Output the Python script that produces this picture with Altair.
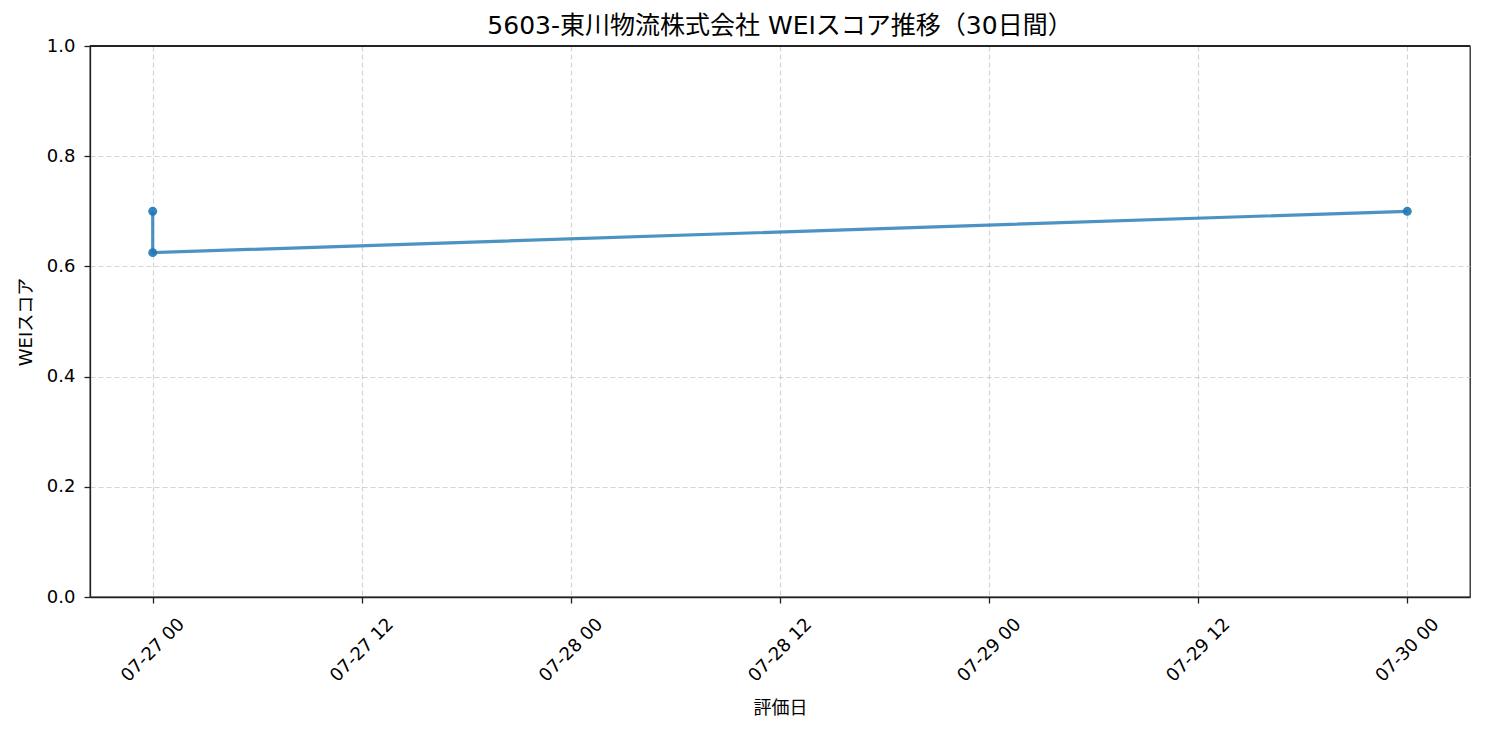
import altair as alt
import pandas as pd

timestamps = ["2025-07-27T00:00:00Z", "2025-07-27T00:00:00Z", "2025-07-30T00:00:00Z"]
scores = [0.70, 0.625, 0.70]
order = [0, 1, 2]
tick_days = [27, 27, 28, 28, 29, 29, 30]
tick_hours = [0, 12, 0, 12, 0, 12, 0]
y_max = 1.0

df = pd.DataFrame({"date": timestamps, "score": scores, "idx": order})

FONT = "DejaVu Sans, Noto Sans CJK JP"
COLOR = "#1f77b4"

tick_values = [
    alt.DateTime(year=2025, month=7, date=d, hours=h, utc=True)
    for d, h in zip(tick_days, tick_hours)
]

x_enc = alt.X(
    "date:T",
    title="評価日",
    scale=alt.Scale(
        type="utc",
        domain=[
            alt.DateTime(year=2025, month=7, date=26, hours=20, minutes=24, utc=True),
            alt.DateTime(year=2025, month=7, date=30, hours=3, minutes=36, utc=True),
        ],
        nice=False,
    ),
    axis=alt.Axis(
        format="%m-%d %H",
        values=tick_values,
        labelAngle=315,
        labelAlign="center",
        labelBaseline="middle",
        labelPadding=47,
        labelFlush=False,
        labelOverlap=False,
        titlePadding=15,
    ),
)
y_enc = alt.Y(
    "score:Q",
    title="WEIスコア",
    scale=alt.Scale(domain=[0, y_max], nice=False, zero=True),
    axis=alt.Axis(values=[0, 0.2, 0.4, 0.6, 0.8, 1.0], format=".1f", titlePadding=11,
                  labelPadding=9),
)

base = alt.Chart(df).encode(x=x_enc, y=y_enc, order=alt.Order("idx:Q"))

line = base.mark_line(color=COLOR, strokeWidth=3.2, opacity=0.8)
points = base.mark_point(color=COLOR, filled=True, size=80, opacity=0.9)
top_spine = alt.Chart(df).mark_rule(color="#222", strokeWidth=1.3).encode(
    y=alt.datum(y_max)
)

chart = (
    alt.layer(line, points, top_spine)
    .properties(
        width=1380,
        height=551,
        background="white",
        title=alt.TitleParams(
            "5603-東川物流株式会社 WEIスコア推移（30日間）",
            font=FONT,
            fontSize=25,
            fontWeight="normal",
            color="#000",
            offset=-2,
        ),
        autosize=alt.AutoSizeParams(type="none"),
        padding={"left": 82, "top": 38, "right": 7, "bottom": 130},
    )
    .configure_view(stroke="#222", strokeWidth=1.3)
    .configure_axis(
        labelFont=FONT,
        titleFont=FONT,
        labelFontSize=18,
        titleFontSize=18,
        titleFontWeight="normal",
        labelColor="#000",
        titleColor="#000",
        domainColor="#222",
        domainWidth=1.3,
        tickColor="#222",
        tickSize=6,
        tickWidth=1.3,
        gridColor="#c8c8c8",
        gridDash=[5, 3],
        gridWidth=1.1,
        gridOpacity=0.8,
    )
)

chart.save("out.html", embed_options={"renderer": "svg", "actions": False})
